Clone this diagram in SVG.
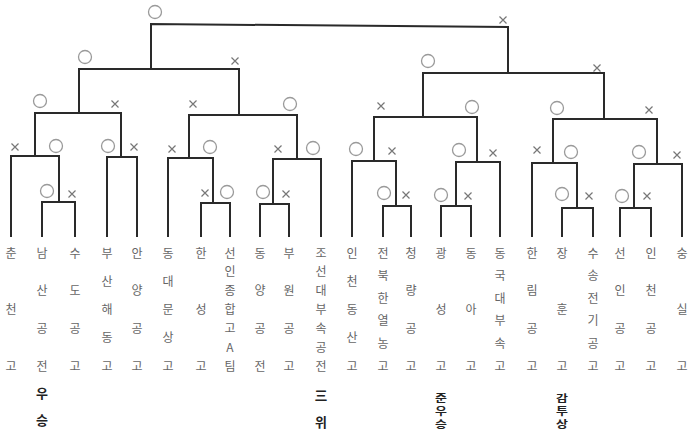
<svg xmlns="http://www.w3.org/2000/svg" width="689" height="431" viewBox="0 0 689 431">
<style>
.ln{fill:none;stroke:#2a2a2a;stroke-width:2;stroke-linecap:square}
.o{fill:none;stroke:#9a9a9a;stroke-width:1.3}
.x{stroke:#777;stroke-width:1.2}
.n{font-family:"Noto Sans CJK KR","Noto Sans",sans-serif;font-size:12px;fill:#666;text-anchor:middle}
.w{font-family:"Noto Sans CJK KR","Noto Sans",sans-serif;font-size:13px;font-weight:bold;fill:#222;text-anchor:middle}
</style>
<defs>
<circle id="oc" r="6.5" class="o"/>
<path id="xx" d="M-3.5,-3.5L3.5,3.5M3.5,-3.5L-3.5,3.5" class="x"/>
</defs>
<rect width="689" height="431" fill="#fff"/>
<g id="connectors">
<path class="ln" d="M151,69V24L508,27V73"/>
<path class="ln" d="M79,113V69H239V115"/>
<path class="ln" d="M35,156V113H121V157"/>
<path class="ln" d="M11,236V156H59V202"/>
<path class="ln" d="M42,236V202H75V236"/>
<path class="ln" d="M107,236V157H137V236"/>
<path class="ln" d="M189,158V115H297V159"/>
<path class="ln" d="M168,236V158H213V203"/>
<path class="ln" d="M201,236V203H230V236"/>
<path class="ln" d="M273,204V159H321V236"/>
<path class="ln" d="M260,236V204H289V236"/>
<path class="ln" d="M423,117V73H604V119"/>
<path class="ln" d="M374,161V117H477V162"/>
<path class="ln" d="M352,236V161H396V206"/>
<path class="ln" d="M383,236V206H411V236"/>
<path class="ln" d="M456,206V162H500V236"/>
<path class="ln" d="M441,236V206H471V236"/>
<path class="ln" d="M553,163V119H657V164"/>
<path class="ln" d="M532,236V163H577V208"/>
<path class="ln" d="M562,236V208H593V236"/>
<path class="ln" d="M634,208V164H682V236"/>
<path class="ln" d="M620,236V208H651V236"/>
</g>
<g id="marks">
<use href="#oc" x="155" y="12"/><use href="#xx" x="503" y="20"/>
<use href="#oc" x="85" y="57"/><use href="#xx" x="235" y="61"/>
<use href="#oc" x="428" y="61"/><use href="#xx" x="597" y="68"/>
<use href="#oc" x="40" y="101"/><use href="#xx" x="115" y="104"/>
<use href="#xx" x="193" y="104"/><use href="#oc" x="290" y="104"/>
<use href="#xx" x="381" y="106"/><use href="#oc" x="472" y="107"/>
<use href="#oc" x="557" y="108"/><use href="#xx" x="649" y="110"/>
<use href="#xx" x="15" y="147"/><use href="#oc" x="56" y="146"/>
<use href="#oc" x="108" y="146"/><use href="#xx" x="134" y="147"/>
<use href="#xx" x="172" y="149"/><use href="#oc" x="210" y="147"/>
<use href="#xx" x="278" y="149"/><use href="#oc" x="313" y="148"/>
<use href="#oc" x="356" y="149"/><use href="#xx" x="392" y="151"/>
<use href="#oc" x="459" y="150"/><use href="#xx" x="493" y="153"/>
<use href="#xx" x="537" y="150"/><use href="#oc" x="571" y="152"/>
<use href="#oc" x="639" y="152"/><use href="#xx" x="677" y="155"/>
<use href="#oc" x="47" y="191"/><use href="#xx" x="72" y="194"/>
<use href="#xx" x="205" y="193"/><use href="#oc" x="227" y="192"/>
<use href="#oc" x="263" y="192"/><use href="#xx" x="286" y="194"/>
<use href="#oc" x="384" y="193"/><use href="#xx" x="406" y="195"/>
<use href="#oc" x="441" y="195"/><use href="#xx" x="468" y="196"/>
<use href="#oc" x="562" y="194"/><use href="#xx" x="589" y="196"/>
<use href="#oc" x="622" y="196"/><use href="#xx" x="647" y="196"/>
</g>
<g id="t1"><text class="n"><tspan x="11" y="257.5">춘</tspan><tspan x="11" y="314">천</tspan><tspan x="11" y="370.5">고</tspan></text></g>
<g id="t2"><text class="n"><tspan x="42" y="257.5">남</tspan><tspan x="42" y="295.2">산</tspan><tspan x="42" y="332.8">공</tspan><tspan x="42" y="370.5">전</tspan></text>
<text class="w"><tspan x="42" y="397.5">우</tspan><tspan x="42" y="424.5">승</tspan></text></g>
<g id="t3"><text class="n"><tspan x="75" y="257.5">수</tspan><tspan x="75" y="295.2">도</tspan><tspan x="75" y="332.8">공</tspan><tspan x="75" y="370.5">고</tspan></text></g>
<g id="t4"><text class="n"><tspan x="107" y="257.5">부</tspan><tspan x="107" y="285.8">산</tspan><tspan x="107" y="314">해</tspan><tspan x="107" y="342.2">동</tspan><tspan x="107" y="370.5">고</tspan></text></g>
<g id="t5"><text class="n"><tspan x="137" y="257.5">안</tspan><tspan x="137" y="295.2">양</tspan><tspan x="137" y="332.8">공</tspan><tspan x="137" y="370.5">고</tspan></text></g>
<g id="t6"><text class="n"><tspan x="168" y="257.5">동</tspan><tspan x="168" y="285.8">대</tspan><tspan x="168" y="314">문</tspan><tspan x="168" y="342.2">상</tspan><tspan x="168" y="370.5">고</tspan></text></g>
<g id="t7"><text class="n"><tspan x="201" y="257.5">한</tspan><tspan x="201" y="314">성</tspan><tspan x="201" y="370.5">고</tspan></text></g>
<g id="t8"><text class="n"><tspan x="230" y="257.5">선</tspan><tspan x="230" y="276.3">인</tspan><tspan x="230" y="295.2">종</tspan><tspan x="230" y="314">합</tspan><tspan x="230" y="332.8">고</tspan><tspan x="230" y="351.7">A</tspan><tspan x="230" y="370.5">팀</tspan></text></g>
<g id="t9"><text class="n"><tspan x="260" y="257.5">동</tspan><tspan x="260" y="295.2">양</tspan><tspan x="260" y="332.8">공</tspan><tspan x="260" y="370.5">전</tspan></text></g>
<g id="t10"><text class="n"><tspan x="289" y="257.5">부</tspan><tspan x="289" y="295.2">원</tspan><tspan x="289" y="332.8">공</tspan><tspan x="289" y="370.5">고</tspan></text></g>
<g id="t11"><text class="n"><tspan x="321" y="257.5">조</tspan><tspan x="321" y="276.3">선</tspan><tspan x="321" y="295.2">대</tspan><tspan x="321" y="314">부</tspan><tspan x="321" y="332.8">속</tspan><tspan x="321" y="351.7">공</tspan><tspan x="321" y="370.5">전</tspan></text>
<text class="w"><tspan x="321" y="399.5">三</tspan><tspan x="321" y="426.5">위</tspan></text></g>
<g id="t12"><text class="n"><tspan x="352" y="257.5">인</tspan><tspan x="352" y="285.8">천</tspan><tspan x="352" y="314">동</tspan><tspan x="352" y="342.2">산</tspan><tspan x="352" y="370.5">고</tspan></text></g>
<g id="t13"><text class="n"><tspan x="383" y="257.5">전</tspan><tspan x="383" y="280.1">북</tspan><tspan x="383" y="302.7">한</tspan><tspan x="383" y="325.3">열</tspan><tspan x="383" y="347.9">농</tspan><tspan x="383" y="370.5">고</tspan></text></g>
<g id="t14"><text class="n"><tspan x="411" y="257.5">청</tspan><tspan x="411" y="295.2">량</tspan><tspan x="411" y="332.8">공</tspan><tspan x="411" y="370.5">고</tspan></text></g>
<g id="t15"><text class="n"><tspan x="441" y="257.5">광</tspan><tspan x="441" y="314">성</tspan><tspan x="441" y="370.5">고</tspan></text>
<g transform="translate(441,392) scale(1,0.76)"><text class="w"><tspan x="0" y="13">준</tspan><tspan x="0" y="30">우</tspan><tspan x="0" y="47">승</tspan></text></g></g>
<g id="t16"><text class="n"><tspan x="471" y="257.5">동</tspan><tspan x="471" y="314">아</tspan><tspan x="471" y="370.5">고</tspan></text></g>
<g id="t17"><text class="n"><tspan x="500" y="257.5">동</tspan><tspan x="500" y="280.1">국</tspan><tspan x="500" y="302.7">대</tspan><tspan x="500" y="325.3">부</tspan><tspan x="500" y="347.9">속</tspan><tspan x="500" y="370.5">고</tspan></text></g>
<g id="t18"><text class="n"><tspan x="532" y="257.5">한</tspan><tspan x="532" y="295.2">림</tspan><tspan x="532" y="332.8">공</tspan><tspan x="532" y="370.5">고</tspan></text></g>
<g id="t19"><text class="n"><tspan x="562" y="257.5">장</tspan><tspan x="562" y="314">훈</tspan><tspan x="562" y="370.5">고</tspan></text>
<g transform="translate(562,392) scale(1,0.76)"><text class="w"><tspan x="0" y="13">감</tspan><tspan x="0" y="30">투</tspan><tspan x="0" y="47">상</tspan></text></g></g>
<g id="t20"><text class="n"><tspan x="593" y="257.5">수</tspan><tspan x="593" y="280.1">송</tspan><tspan x="593" y="302.7">전</tspan><tspan x="593" y="325.3">기</tspan><tspan x="593" y="347.9">공</tspan><tspan x="593" y="370.5">고</tspan></text></g>
<g id="t21"><text class="n"><tspan x="620" y="257.5">선</tspan><tspan x="620" y="295.2">인</tspan><tspan x="620" y="332.8">공</tspan><tspan x="620" y="370.5">고</tspan></text></g>
<g id="t22"><text class="n"><tspan x="651" y="257.5">인</tspan><tspan x="651" y="295.2">천</tspan><tspan x="651" y="332.8">공</tspan><tspan x="651" y="370.5">고</tspan></text></g>
<g id="t23"><text class="n"><tspan x="682" y="257.5">숭</tspan><tspan x="682" y="314">실</tspan><tspan x="682" y="370.5">고</tspan></text></g>
</svg>
